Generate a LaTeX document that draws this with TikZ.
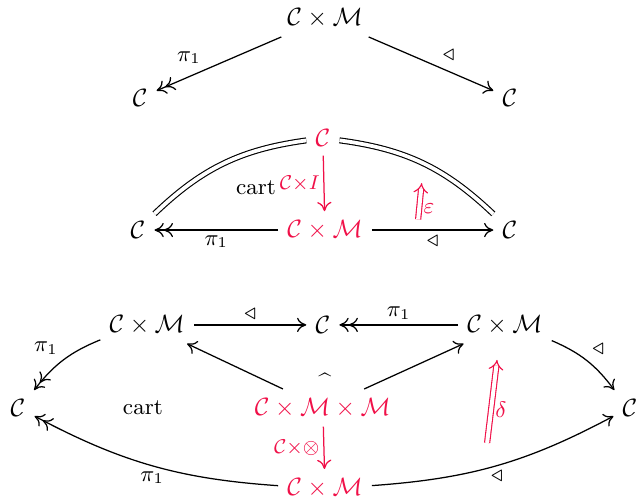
\documentclass[tikz,border=0pt]{standalone}
\usepackage{amsmath}
\usepackage{amssymb}
\usepackage{tikz}
\usetikzlibrary{arrows.meta,positioning,calc}
\definecolor{cellred}{RGB}{240,16,72}
\tikzset{
  obj/.style={inner sep=3.5pt},
  redobj/.style={obj, text=cellred},
  mor/.style={-{To[length=1.3mm,width=2mm]}, line width=0.5pt},
  epi/.style={-{To[length=1.3mm,width=2mm]To[length=1.3mm,width=2mm]}, line width=0.5pt},
  redmor/.style={mor, draw=cellred},
  eqline/.style={double, double distance=1.5pt, line width=0.45pt},
  twocell/.style={draw=cellred, double, double distance=1.6pt, line width=0.45pt, -{Implies}},
  lab/.style={font=\small, inner sep=2pt},
  redlab/.style={font=\footnotesize, inner sep=1.5pt, text=cellred},
  celllab/.style={font=\small, inner sep=0pt},
}
\begin{document}
\begin{tikzpicture}[x=1cm,y=1cm]
\useasboundingbox (0,0) rectangle (9.0,7.015);
% counit square
\node[obj] (tpCM) at (4.57,6.76) {$\mathcal{C}\times\mathcal{M}$};
\node[obj] (tpL) at (1.97,5.64) {$\mathcal{C}$};
\node[obj] (tpR) at (7.17,5.64) {$\mathcal{C}$};
\draw[epi] (tpCM) -- node[lab,above left,pos=0.6]{$\pi_1$} (tpL);
\draw[mor] (tpCM) -- node[lab,above right,pos=0.55]{$\triangleleft$} (tpR);
% unit
\node[redobj] (unC) at (4.54,5.075) {$\mathcal{C}$};
\node[obj] (unL) at (1.94,3.78) {$\mathcal{C}$};
\node[redobj] (unCM) at (4.57,3.78) {$\mathcal{C}\times\mathcal{M}$};
\node[obj] (unR) at (7.17,3.78) {$\mathcal{C}$};
\draw[eqline] (unC) to[bend right=18] (unL);
\draw[eqline] (unC) to[bend left=18] (unR);
\draw[redmor] (unC) -- node[redlab,left]{$\mathcal{C}{\times}I$} (unCM);
\draw[epi] (unCM) -- node[lab,below]{$\pi_1$} (unL);
\draw[mor] (unCM) -- node[lab,below]{$\triangleleft$} (unR);
\node[celllab] (unCart) at (3.60,4.37) {cart};
\coordinate (epsS) at (5.88,3.93);
\coordinate (epsT) at (5.93,4.44);
\draw[twocell] (epsS) -- node[redlab,font=\small,right,pos=0.3]{$\varepsilon$} (epsT);
% associator
\node[obj] (asTL) at (2.07,2.446) {$\mathcal{C}\times\mathcal{M}$};
\node[obj] (asC) at (4.54,2.446) {$\mathcal{C}$};
\node[obj] (asTR) at (7.10,2.446) {$\mathcal{C}\times\mathcal{M}$};
\node[obj] (asL) at (0.253,1.28) {$\mathcal{C}$};
\node[redobj] (asCMM) at (4.54,1.28) {$\mathcal{C}\times\mathcal{M}\times\mathcal{M}$};
\node[obj] (asR) at (8.86,1.28) {$\mathcal{C}$};
\node[redobj] (asB) at (4.57,0.155) {$\mathcal{C}\times\mathcal{M}$};
\draw[mor] (asTL) -- node[lab,above]{$\triangleleft$} (asC);
\draw[epi] (asTR) -- node[lab,above]{$\pi_1$} (asC);
\draw[epi] (asTL) to[bend right=15] node[lab,above left]{$\pi_1$} (asL);
\draw[mor] (asTR) to[bend left=15] node[lab,above right]{$\triangleleft$} (asR);
\draw[mor] (asCMM) -- (asTL);
\draw[mor] (asCMM) -- (asTR);
\node[lab] (asHat) at (4.57,1.66) {\^{}};
\node[celllab] (asCart) at (2.01,1.28) {cart};
\draw[redmor] (asCMM) -- node[redlab,left]{$\mathcal{C}{\times}\otimes$} (asB);
\draw[epi] (asB) to[bend left=12] node[lab,below]{$\pi_1$} (asL);
\draw[mor] (asB) to[bend right=12] node[lab,below]{$\triangleleft$} (asR);
\coordinate (delS) at (6.85,0.787);
\coordinate (delT) at (6.99,1.954);
\draw[twocell] (delS) -- node[redlab,font=\small,right,pos=0.4]{$\delta$} (delT);
\end{tikzpicture}
\end{document}
